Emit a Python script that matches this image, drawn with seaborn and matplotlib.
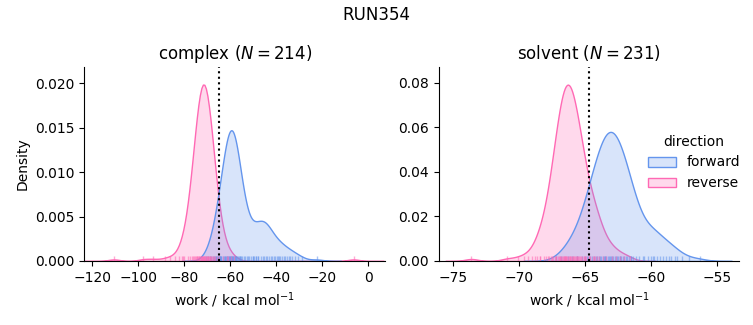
import matplotlib
matplotlib.use("Agg")
import matplotlib.pyplot as plt
import pandas as pd
import seaborn as sns

# ---------------- data ----------------
phases = ["complex", "solvent"]
n_cycles = [214, 231]
directions = ["forward", "reverse"]
palette = {"forward": "cornflowerblue", "reverse": "hotpink"}
free_energy = [-65.0, -64.67]   # dotted reference line per phase
x_limits = [(-123.5, 7.3), (-76.06, -53.28)]

# complex / forward : work values and how many cycles gave each value
complex_forward_work = [
    -66.09, -64.63, -63.85, -63.29, -62.82, -62.43, -62.08, -61.76, -61.47, -61.20,
    -60.93, -60.68, -60.44, -60.20, -59.97, -59.74, -59.51, -59.29, -59.06, -58.83,
    -58.60, -58.36, -58.12, -57.84, -57.56, -57.27, -56.97, -56.63, -56.28, -55.86,
    -55.37, -54.79, -54.05, -52.71,
    -52.4, -50.1, -48.8, -47.7, -46.8, -45.9, -45.1, -44.2, -43.3, -42.3, -40.9, -38.6,
    -70.5, -68.9, -67.6, -68.3, -67.0, -66.2, -65.6, -64.9, -64.3,
    -65.5, -64.6, -55.9, -53.6, -51.8,
    -51.0, -50.3, -49.6, -48.9, -48.1, -44.6,
    -41.6, -40.6, -39.8, -39.0, -38.2, -37.5, -36.8, -36.1, -35.4, -34.6, -33.8, -32.9,
    -31.9, -30.6, -28.8, -22.2,
    -69.5, -66.8, -65.2, -63.9]
complex_forward_count = ([4] * 34 + [3, 3, 3, 3, 4, 4, 4, 4, 3, 3, 2, 2] + [1] * 40)

# complex / reverse
complex_reverse_work = [
    -79.94, -78.22, -77.31, -76.64, -76.11, -75.66, -75.26, -74.90, -74.57, -74.26,
    -73.97, -73.69, -73.42, -73.16, -72.91, -72.66, -72.42, -72.18, -71.95, -71.72,
    -71.48, -71.25, -71.02, -70.78, -70.54, -70.29, -70.04, -69.78, -69.51, -69.23,
    -68.94, -68.63, -68.30, -67.94, -67.54, -67.09, -66.56, -65.89, -64.98, -63.26,
    -110.6, -97.8, -93.4, -88.5, -86.0, -84.1, -82.5, -81.2, -80.6, -61.6, -60.9, -59.5,
    -58.3, -6.3]
complex_reverse_count = [5] * 40 + [1] * 14

# solvent / forward
solvent_forward_work = [
    -66.25, -65.60, -65.24, -64.99, -64.78, -64.61, -64.46, -64.32, -64.19, -64.07,
    -63.96, -63.85, -63.75, -63.65, -63.55, -63.46, -63.37, -63.27, -63.18, -63.09,
    -63.01, -62.92, -62.83, -62.73, -62.64, -62.55, -62.45, -62.35, -62.25, -62.14,
    -62.03, -61.91, -61.78, -61.63, -61.47, -61.32, -61.11, -60.86, -60.50, -59.85,
    -60.21, -59.79, -59.52, -59.30, -59.10, -58.88, -58.62, -58.19,
    -67.2, -66.8, -66.0, -65.6, -64.8, -63.5, -62.3, -61.5, -60.6, -60.0, -58.5, -58.0,
    -57.6, -57.1, -56.3]
solvent_forward_count = [5] * 40 + [2] * 8 + [1] * 15

# solvent / reverse
solvent_reverse_work = [
    -68.39, -67.95, -67.71, -67.53, -67.39, -67.27, -67.17, -67.07, -66.98, -66.90,
    -66.82, -66.75, -66.67, -66.60, -66.53, -66.47, -66.40, -66.33, -66.27, -66.20,
    -66.13, -66.07, -66.00, -65.92, -65.85, -65.75, -65.68, -65.62, -65.53, -65.43,
    -65.33, -65.21, -65.07, -64.89, -64.65, -64.21,
    -65.07, -64.62, -64.34, -64.11, -63.89, -63.66, -63.38, -62.93,
    -73.6, -70.9, -70.1, -69.6, -69.3, -69.0, -68.8, -68.6, -68.4, -68.1,
    -67.8, -67.5, -67.2, -66.9, -66.6, -66.4, -66.1, -65.9, -65.6, -65.3, -65.0, -64.7,
    -64.4, -62.6, -62.3, -62.0, -61.6]
solvent_reverse_count = [5] * 36 + [3] * 8 + [1] * 27

groups = [
    ("complex", "forward", complex_forward_work, complex_forward_count),
    ("complex", "reverse", complex_reverse_work, complex_reverse_count),
    ("solvent", "forward", solvent_forward_work, solvent_forward_count),
    ("solvent", "reverse", solvent_reverse_work, solvent_reverse_count),
]
frames = [pd.DataFrame({"phase": ph, "direction": d, "work": w, "count": c})
          for ph, d, w, c in groups]
df = pd.concat(frames, ignore_index=True)

# ---------------- plot ----------------
g = sns.displot(
    data=df, x="work", hue="direction", col="phase", weights="count",
    kind="kde", fill=True, rug=True, bw_adjust=0.75,
    hue_order=directions, col_order=phases, palette=palette,
    rug_kws=dict(alpha=0.55),
    facet_kws=dict(sharex=False, sharey=False),
    height=3, aspect=1.1,
)

for ax, phase, n, dg, xl in zip(g.axes.flat, phases, n_cycles, free_energy, x_limits):
    ax.set_title(f"{phase} ($N = {n}$)", fontsize=12)
    ax.set_xlabel("work / kcal mol$^{-1}$")
    ax.set_xlim(*xl)
    ax.axvline(dg, color="black", linestyle=":", linewidth=1.5)

g.axes.flat[0].set_ylabel("Density")
g.figure.suptitle("RUN354", fontsize=12)
g.figure.set_size_inches(7.53, 3.25)
g.figure.subplots_adjust(left=0.112, right=0.982, bottom=0.197, top=0.794, wspace=0.18)
g.figure.savefig("out.png", dpi=100)
